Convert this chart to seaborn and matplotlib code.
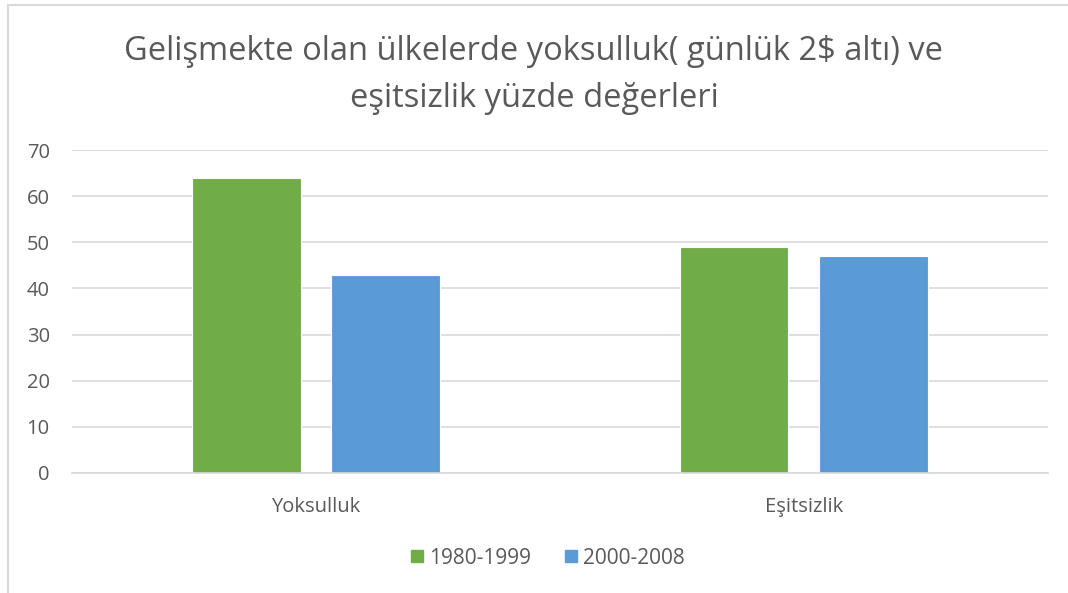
import pandas as pd
import seaborn as sns
import matplotlib.pyplot as plt
from matplotlib.lines import Line2D

# data
categories = ['Yoksulluk', 'Eşitsizlik']
periods = ['1980-1999', '2000-2008']
v_1980_1999 = [64, 49]
v_2000_2008 = [43, 47]

df = pd.DataFrame({
    'kategori': categories * 2,
    'donem': [periods[0]] * 2 + [periods[1]] * 2,
    'deger': v_1980_1999 + v_2000_2008,
})

sns.set_style('white')
plt.rcParams['font.family'] = ['Open Sans', 'DejaVu Sans']
grey = '#595959'
colors = ['#70AD47', '#5B9BD5']

fig = plt.figure(figsize=(10.68, 5.93), dpi=100)
ax = fig.add_axes([0.0674, 0.2024, 0.9136, 0.5446])

sns.barplot(data=df, x='kategori', y='deger', hue='donem', order=categories,
            hue_order=periods, palette=colors, saturation=1,
            width=0.57, gap=0.22, edgecolor='white', linewidth=0.8,
            ax=ax, legend=False)

ax.set_xlim(-0.5, 1.5)
ax.set_ylim(0, 70)
ax.set_yticks(range(0, 71, 10))
ax.yaxis.grid(True, color='#D9D9D9', linewidth=1.2)
ax.set_axisbelow(True)
for s in ['top', 'right', 'left']:
    ax.spines[s].set_visible(False)
ax.spines['bottom'].set_color('#D9D9D9')
ax.spines['bottom'].set_linewidth(1.2)
ax.tick_params(axis='both', length=0, colors=grey, labelsize=14.5)
ax.tick_params(axis='y', pad=16)
ax.tick_params(axis='x', pad=17)
ax.set_xlabel('')
ax.set_ylabel('')

fig.text(0.5, 0.874, 'Gelişmekte olan ülkelerde yoksulluk( günlük 2$ altı) ve\neşitsizlik yüzde değerleri',
         ha='center', va='center', fontsize=23.5, color=grey, linespacing=1.55)

handles = [Line2D([0], [0], marker='s', linestyle='', markersize=9,
                  markerfacecolor=c, markeredgecolor=c) for c in colors]
fig.legend(handles, periods, loc='center', bbox_to_anchor=(0.512, 0.059), ncol=2,
           frameon=False, fontsize=15, labelcolor=grey, handletextpad=0.2,
           columnspacing=1.5, handlelength=0.8)

# chart border (left and top)
fig.add_artist(Line2D([0.0075, 0.0075], [0, 0.992], transform=fig.transFigure,
                      color='#D9D9D9', linewidth=1.5))
fig.add_artist(Line2D([0.0075, 1], [0.992, 0.992], transform=fig.transFigure,
                      color='#D9D9D9', linewidth=1.5))

plt.savefig('out.png', dpi=100)
